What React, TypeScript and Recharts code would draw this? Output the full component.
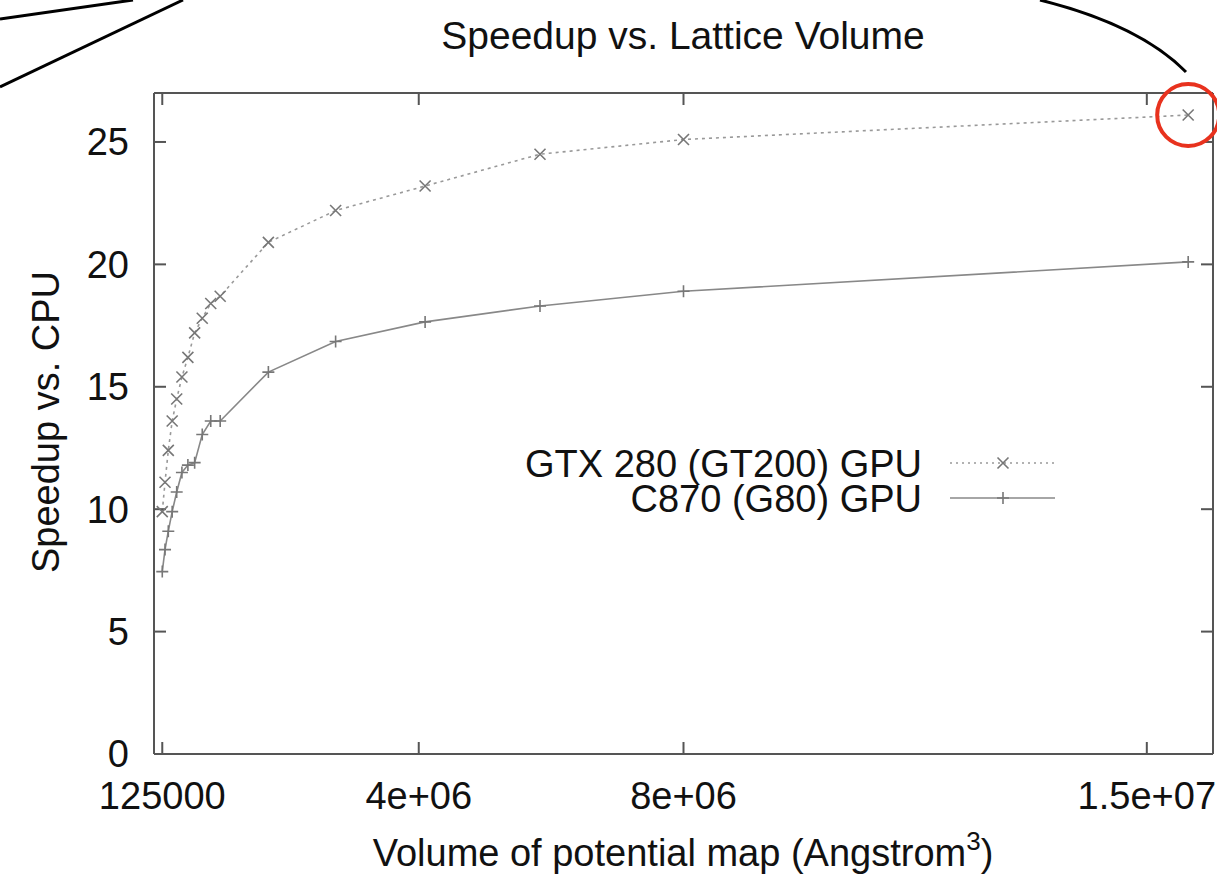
import { LineChart, Line, XAxis, YAxis, Legend, ReferenceDot } from "recharts";

// lattice volumes (Angstrom^3), 50^3 .. 100^3 then bigger cubes
const volumes = [125000, 166375, 216000, 274625, 343000, 421875, 512000, 614125, 729000, 857375, 1000000, 1728000, 2744000, 4096000, 5832000, 8000000, 15625000];
const gtx280 = [9.9, 11.1, 12.4, 13.6, 14.5, 15.4, 16.2, 17.2, 17.8, 18.4, 18.7, 20.9, 22.2, 23.2, 24.5, 25.1, 26.1];
const c870 = [7.45, 8.35, 9.1, 9.9, 10.7, 11.5, 11.8, 11.9, 13.05, 13.6, 13.6, 15.6, 16.85, 17.65, 18.3, 18.9, 20.1];

const xTicks = [125000, 4000000, 8000000, 15000000];
const xTickLabels = ["125000", "4e+06", "8e+06", "1.5e+07"];
const yTicks = [0, 5, 10, 15, 20, 25];

const data = volumes.map((v, i) => ({ v, gtx: gtx280[i], c870: c870[i] }));

const FONT = "'Liberation Sans', Arial, Helvetica, sans-serif";
const AX = "#555";
const TICK = { fill: "#111", fontSize: 38, fontFamily: FONT };
const AXLINE = { stroke: AX, strokeWidth: 2 };

const Cross = (p: any) => {
  const { cx, cy } = p;
  if (cx == null || cy == null) return null;
  const s = 5.5;
  return <path d={`M${cx - s},${cy - s}L${cx + s},${cy + s}M${cx - s},${cy + s}L${cx + s},${cy - s}`} stroke="#777" strokeWidth={1.6} fill="none" />;
};
const Plus = (p: any) => {
  const { cx, cy } = p;
  if (cx == null || cy == null) return null;
  const s = 6;
  return <path d={`M${cx - s},${cy}L${cx + s},${cy}M${cx},${cy - s}L${cx},${cy + s}`} stroke="#777" strokeWidth={1.6} fill="none" />;
};

function LegendBox() {
  return (
    <svg width={1217} height={110} style={{ display: "block" }}>
      <g fontFamily={FONT} fontSize={38} fill="#111" textAnchor="end">
        <text x={922} y={50} dy="0.36em">GTX 280 (GT200) GPU</text>
        <text x={922} y={85} dy="0.36em">C870 (G80) GPU</text>
      </g>
      <line x1={950} x2={1055} y1={50} y2={50} stroke="#999" strokeWidth={1.6} strokeDasharray="2 4" />
      <Cross cx={1003} cy={50} />
      <line x1={950} x2={1055} y1={85} y2={85} stroke="#888" strokeWidth={1.6} />
      <Plus cx={1003} cy={85} />
    </svg>
  );
}

export default function App() {
  return (
    <div style={{ position: "absolute", left: 0, top: 0, width: 1217, height: 876, background: "#fff" }}>
      <LineChart width={1217} height={876} data={data} margin={{ top: 92, right: 3, bottom: 72, left: 0 }}>
        <XAxis dataKey="v" type="number" domain={[0, 16000000]} ticks={xTicks} interval={0}
          tickFormatter={(v: number) => xTickLabels[xTicks.indexOf(v)] ?? ""}
          tick={TICK} tickSize={-12} tickMargin={40} height={50}
          axisLine={AXLINE} tickLine={AXLINE} />
        <XAxis xAxisId="top" orientation="top" dataKey="v" type="number" domain={[0, 16000000]} ticks={xTicks} interval={0}
          tick={() => <g />} tickSize={-12} height={1}
          axisLine={AXLINE} tickLine={AXLINE} />
        <YAxis type="number" domain={[0, 27]} ticks={yTicks} interval={0} width={154}
          tick={TICK} tickSize={-12} tickMargin={37}
          axisLine={AXLINE} tickLine={AXLINE} />
        <YAxis yAxisId="right" orientation="right" type="number" domain={[0, 27]} ticks={yTicks} interval={0} width={1}
          tick={() => <g />} tickSize={-12}
          axisLine={AXLINE} tickLine={AXLINE} />
        <Line dataKey="gtx" name="GTX 280 (GT200) GPU" stroke="#999" strokeWidth={1.6} strokeDasharray="3 4"
          dot={<Cross />} activeDot={false} isAnimationActive={false} />
        <Line dataKey="c870" name="C870 (G80) GPU" stroke="#888" strokeWidth={1.6}
          dot={<Plus />} activeDot={false} isAnimationActive={false} />
        {/* invisible series so the mirrored frame axes are bound and drawn */}
        <Line xAxisId="top" yAxisId="right" dataKey="c870" stroke="none" dot={false} activeDot={false}
          legendType="none" isAnimationActive={false} />
        <ReferenceDot x={volumes[volumes.length - 1]} y={gtx280[gtx280.length - 1]} r={31}
          fill="none" stroke="#e8321e" strokeWidth={4} ifOverflow="visible" />
        <Legend layout="vertical" verticalAlign="middle" align="center" content={() => <LegendBox />}
          wrapperStyle={{ left: 0, top: 413, width: 1217, height: 110 }} />
      </LineChart>
      <svg width={1217} height={876} style={{ position: "absolute", left: 0, top: 0, pointerEvents: "none" }}>
        <text x={683} y={49} textAnchor="middle" fontFamily={FONT} fontSize={39} fill="#111">Speedup vs. Lattice Volume</text>
        <text x={683} y={866} textAnchor="middle" fontFamily={FONT} fontSize={38} fill="#111">
          Volume of potential map (Angstrom<tspan fontSize={26} dy={-16}>3</tspan><tspan dy={16}>)</tspan>
        </text>
        <text x={59} y={422} textAnchor="middle" fontFamily={FONT} fontSize={38} fill="#111" transform="rotate(-90 59 422)">Speedup vs. CPU</text>
        <g stroke="#000" strokeWidth={3} fill="none">
          <line x1={0} y1={19} x2={133} y2={0} />
          <line x1={0} y1={87} x2={183} y2={0} />
          <path d="M1040,0 Q1140,25 1186,72" />
        </g>
      </svg>
    </div>
  );
}
